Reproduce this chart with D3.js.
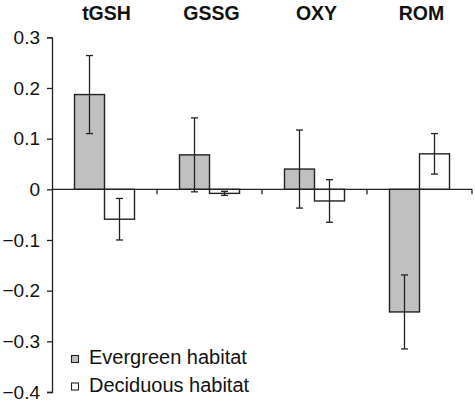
<!DOCTYPE html>
<html><head><meta charset="utf-8">
<script src="https://cdn.jsdelivr.net/npm/d3@7"></script>
<style>
html,body{margin:0;padding:0;background:#fff;}
svg{display:block;font-family:"Liberation Sans",Arial,sans-serif;}
</style></head>
<body>
<svg id="chart" width="475" height="405"></svg>
<script>
const categories = ["tGSH", "GSSG", "OXY", "ROM"];
const seriesNames = ["Evergreen habitat", "Deciduous habitat"];
const evergreen = [0.187, 0.068, 0.040, -0.242];
const evergreenErr = [0.077, 0.073, 0.077, 0.073];
const deciduous = [-0.059, -0.008, -0.023, 0.070];
const deciduousErr = [0.041, 0.004, 0.042, 0.040];
const yTicks = [0.3, 0.2, 0.1, 0, -0.1, -0.2, -0.3, -0.4];
const fills = ["#c0c0c0", "#ffffff"];

const svg = d3.select("#chart");
const ink = "#222";

const y = d3.scaleLinear().domain([-0.4, 0.3]).range([392, 37.3]);
const x = d3.scaleBand().domain(categories).range([52, 472]).padding(0);
const xs = d3.scaleBand().domain([0, 1]).range([0, x.bandwidth()]).paddingInner(0).paddingOuter(0.75);

const data = [];
categories.forEach((c, i) => {
  data.push({cat: c, s: 0, v: evergreen[i], e: evergreenErr[i]});
  data.push({cat: c, s: 1, v: deciduous[i], e: deciduousErr[i]});
});

// bars
svg.append("g").selectAll("rect").data(data).join("rect")
  .attr("x", d => x(d.cat) + xs(d.s))
  .attr("width", xs.bandwidth())
  .attr("y", d => y(Math.max(0, d.v)))
  .attr("height", d => Math.abs(y(d.v) - y(0)))
  .attr("fill", d => fills[d.s])
  .attr("stroke", ink)
  .attr("stroke-width", 1.4);

// y axis
const yAxis = d3.axisLeft(y).tickValues(yTicks).tickSize(5).tickPadding(7)
  .tickFormat(d => d === 0 ? "0" : d3.format(".1f")(d));
const ya = svg.append("g").attr("transform", "translate(52,0)").call(yAxis);
ya.select(".domain").attr("stroke", ink).attr("stroke-width", 1.3);
ya.selectAll(".tick line").attr("stroke", ink).attr("stroke-width", 1.3);
ya.selectAll(".tick text").attr("font-size", 19).attr("fill", "#111")
  .attr("font-family", "'Liberation Sans', Arial, sans-serif");

// x axis at zero with category-boundary ticks pointing down
const xg = svg.append("g");
xg.append("line").attr("x1", x.range()[0]).attr("x2", x.range()[1])
  .attr("y1", y(0)).attr("y2", y(0)).attr("stroke", ink).attr("stroke-width", 1.3);
const bounds = categories.map(c => x(c) + x.bandwidth());
xg.selectAll("line.bt").data(bounds).join("line").attr("class", "bt")
  .attr("x1", d => d).attr("x2", d => d)
  .attr("y1", y(0)).attr("y2", y(0) + 5)
  .attr("stroke", ink).attr("stroke-width", 1.3);

// error bars
const eg = svg.append("g").attr("stroke", ink).attr("stroke-width", 1.3);
data.forEach(d => {
  const cx = x(d.cat) + xs(d.s) + xs.bandwidth() / 2;
  const y1 = y(d.v + d.e), y2 = y(d.v - d.e);
  eg.append("line").attr("x1", cx).attr("x2", cx).attr("y1", y1).attr("y2", y2);
  eg.append("line").attr("x1", cx - 3.5).attr("x2", cx + 3.5).attr("y1", y1).attr("y2", y1);
  eg.append("line").attr("x1", cx - 3.5).attr("x2", cx + 3.5).attr("y1", y2).attr("y2", y2);
});

// category labels
svg.append("g").selectAll("text").data(categories).join("text")
  .attr("x", d => x(d) + x.bandwidth() / 2 + 2)
  .attr("y", 19.5)
  .attr("text-anchor", "middle")
  .attr("font-size", 19.5)
  .attr("font-weight", "bold")
  .attr("fill", "#111")
  .text(d => d);

// legend
const lg = svg.append("g");
seriesNames.forEach((n, i) => {
  const by = 364 + i * 27.5;
  lg.append("rect").attr("x", 71.5).attr("y", by - 8.5).attr("width", 7).attr("height", 7)
    .attr("fill", fills[i]).attr("stroke", ink).attr("stroke-width", 1.1);
  lg.append("text").attr("x", 89).attr("y", by).attr("font-size", 20).attr("fill", "#111").text(n);
});
</script>
</body></html>
